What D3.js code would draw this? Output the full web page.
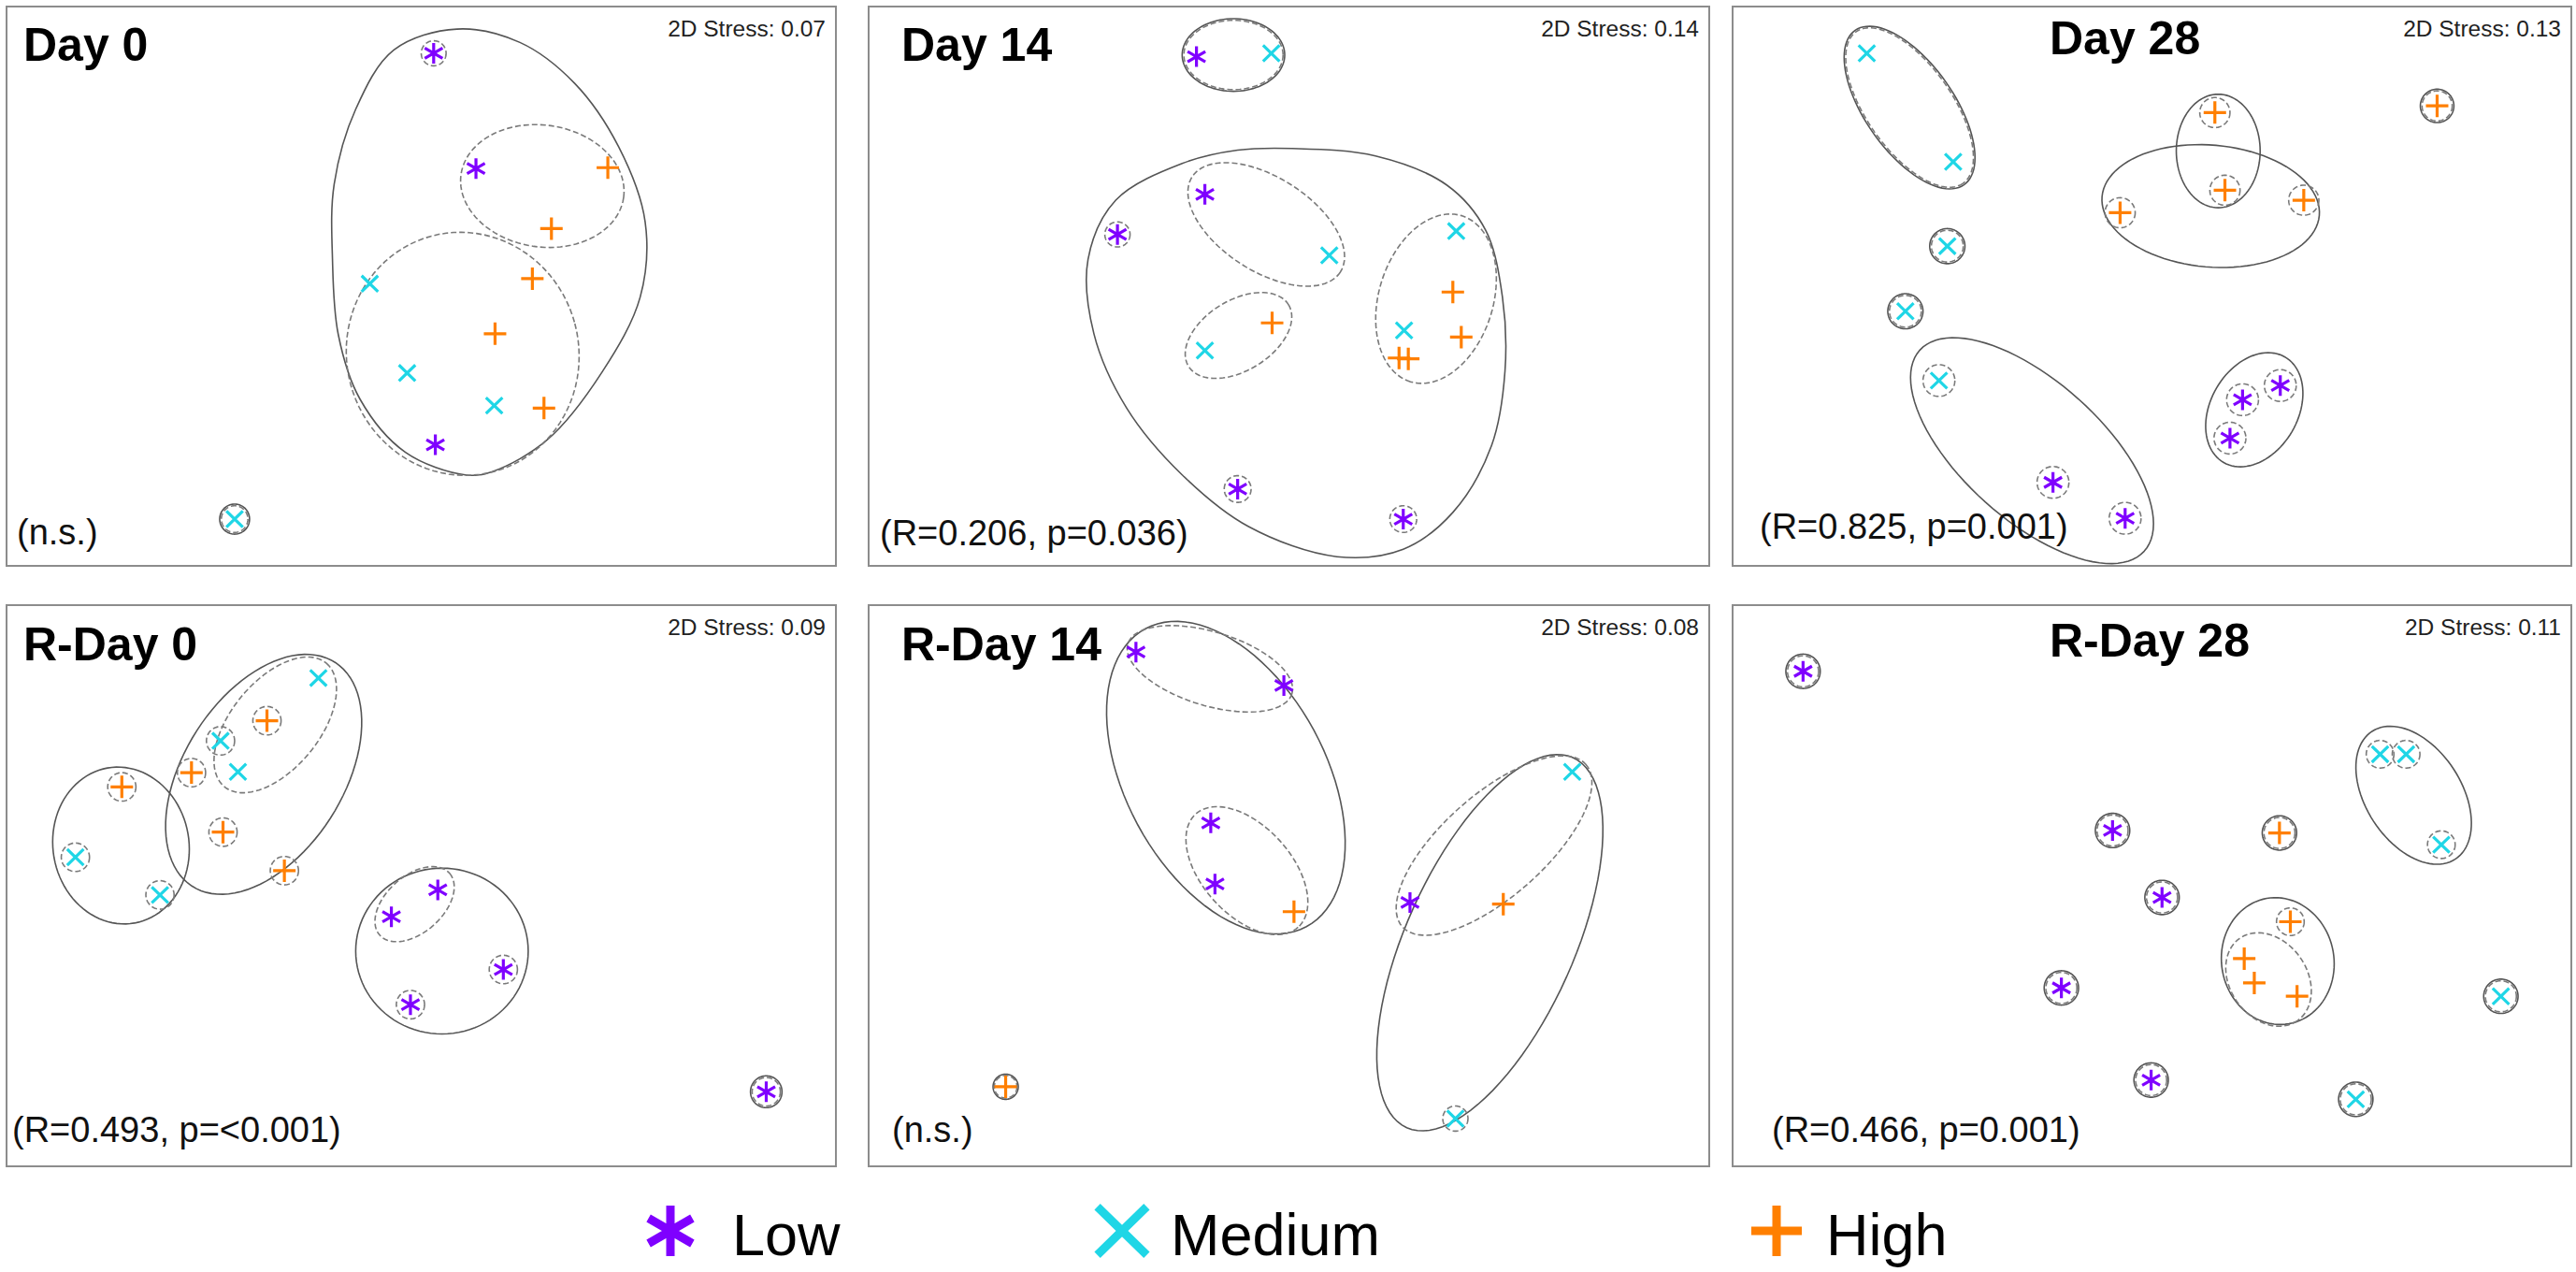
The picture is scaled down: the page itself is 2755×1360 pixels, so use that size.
<!DOCTYPE html>
<meta charset="utf-8">
<style>
  body { margin: 0; background: #fff; }
  * { font-family: 'Liberation Sans', Arial, sans-serif; }
</style>
<svg width="2755" height="1360"></svg>
<script src="https://d3js.org/d3.v7.min.js"></script>
<script>
// ---- data (NMDS coordinates, x 0-100, y 0-67, y down) ----
var groups = ["Low", "Medium", "High"];
var titles = ["Day 0", "Day 14", "Day 28", "R-Day 0", "R-Day 14", "R-Day 28"];
var stress = ["0.07", "0.14", "0.13", "0.09", "0.08", "0.11"];
var anosim = ["(n.s.)", "(R=0.206, p=0.036)", "(R=0.825, p=0.001)",
              "(R=0.493, p=<0.001)", "(n.s.)", "(R=0.466, p=0.001)"];

var ptsDay0 = [
  ["Low", 51.5, 5.6], ["Low", 56.6, 19.4], ["High", 72.5, 19.3], ["High", 65.7, 26.6],
  ["High", 63.4, 32.6], ["Medium", 43.8, 33.2], ["High", 58.9, 39.2], ["Medium", 48.3, 43.9],
  ["Medium", 58.8, 47.8], ["High", 64.8, 48.1], ["Low", 51.7, 52.5], ["Medium", 27.5, 61.4]
];
var ptsDay14 = [
  ["Low", 39.0, 6.0], ["Medium", 47.9, 5.6], ["Low", 40.0, 22.5], ["Low", 29.6, 27.3],
  ["Medium", 69.9, 26.9], ["Medium", 54.8, 29.8], ["High", 69.5, 34.2], ["High", 48.0, 37.9],
  ["Medium", 63.7, 38.8], ["High", 70.5, 39.6], ["Medium", 40.0, 41.2], ["High", 63.1, 42.1],
  ["High", 64.2, 42.2], ["Low", 43.9, 57.8], ["Low", 63.6, 61.4]
];
var ptsDay28 = [
  ["Medium", 16.0, 5.6], ["Medium", 26.3, 18.6], ["High", 57.5, 12.7], ["High", 84.0, 11.9],
  ["High", 58.7, 22.0], ["High", 68.1, 23.2], ["High", 46.2, 24.7], ["Medium", 25.6, 28.7],
  ["Medium", 20.6, 36.5], ["Medium", 24.6, 44.8], ["Low", 65.3, 45.4], ["Low", 60.8, 47.1],
  ["Low", 59.3, 51.7], ["Low", 38.2, 57.0], ["Low", 46.8, 61.3]
];
var ptsRDay0 = [
  ["Medium", 37.6, 8.7], ["High", 31.4, 13.8], ["Medium", 25.8, 16.2], ["Medium", 27.9, 19.9],
  ["High", 22.3, 20.0], ["High", 13.9, 21.7], ["High", 26.1, 27.1], ["Medium", 8.3, 30.1],
  ["High", 33.5, 31.7], ["Medium", 18.5, 34.6], ["Low", 52.0, 34.0], ["Low", 46.4, 37.2],
  ["Low", 59.9, 43.5], ["Low", 48.7, 47.7], ["Low", 91.6, 58.1]
];
var ptsRDay14 = [
  ["Low", 31.8, 5.6], ["Low", 49.4, 9.6], ["Low", 40.7, 26.0], ["Low", 41.2, 33.3],
  ["High", 50.6, 36.6], ["Medium", 83.7, 19.9], ["Low", 64.4, 35.5], ["High", 75.5, 35.7],
  ["Medium", 69.8, 61.3], ["High", 16.3, 57.5]
];
var ptsRDay28 = [
  ["Low", 8.4, 7.9], ["Medium", 77.2, 17.8], ["Medium", 80.3, 17.8], ["Medium", 84.5, 28.6],
  ["Low", 45.3, 26.9], ["High", 65.2, 27.2], ["Low", 51.2, 34.9], ["High", 66.5, 37.8],
  ["High", 61.0, 42.2], ["High", 62.2, 45.1], ["High", 67.3, 46.7], ["Low", 39.2, 45.7],
  ["Medium", 91.6, 46.7], ["Low", 49.9, 56.7], ["Medium", 74.3, 59.0]
];

// cluster contours: [cx, cy, rx, ry, rotation deg, level]  level 1 = solid, 2 = dashed
var ellDay0 = [
  [64.6, 21.5, 9.9, 7.3, 8, 2], [55.0, 41.6, 14.0, 14.6, -15, 2],
  [51.5, 5.6, 1.5, 1.5, 0, 2],
  [27.5, 61.4, 1.8, 1.8, 0, 1], [27.5, 61.4, 1.6, 1.6, 0, 2]
];
var ellDay14 = [
  [43.4, 5.8, 6.1, 4.35, 0, 1], [43.4, 5.8, 5.9, 4.15, 0, 2],
  [47.3, 26.1, 10.5, 5.6, 33, 2], [44.0, 39.4, 7.0, 4.2, -32, 2],
  [67.5, 35.0, 10.4, 6.8, 107, 2],
  [29.6, 27.3, 1.5, 1.5, 0, 2], [43.9, 57.8, 1.6, 1.6, 0, 2], [63.6, 61.4, 1.6, 1.6, 0, 2]
];
var ellDay28 = [
  [21.1, 12.1, 11.3, 5.3, 55, 1], [21.1, 12.1, 11.1, 5.1, 55, 2],
  [57.9, 17.3, 5.0, 6.8, 0, 1], [57.0, 23.9, 13.0, 7.3, 5, 1],
  [57.5, 12.7, 1.8, 1.8, 0, 2], [58.7, 22.0, 1.8, 1.8, 0, 2],
  [68.1, 23.2, 1.8, 1.8, 0, 2], [46.2, 24.7, 1.8, 1.8, 0, 2],
  [84.0, 11.9, 2.0, 2.0, 0, 1], [84.0, 11.9, 1.8, 1.8, 0, 2],
  [25.6, 28.7, 2.1, 2.1, 0, 1], [25.6, 28.7, 1.9, 1.9, 0, 2],
  [20.6, 36.5, 2.1, 2.1, 0, 1], [20.6, 36.5, 1.9, 1.9, 0, 2],
  [35.7, 53.2, 18.0, 8.3, 42, 1],
  [24.6, 44.8, 1.9, 1.9, 0, 2], [38.2, 57.0, 1.9, 1.9, 0, 2], [46.8, 61.3, 1.9, 1.9, 0, 2],
  [62.2, 48.3, 7.3, 5.2, 120, 1],
  [65.3, 45.4, 1.9, 1.9, 0, 2], [60.8, 47.1, 1.9, 1.9, 0, 2], [59.3, 51.7, 1.9, 1.9, 0, 2]
];
var ellRDay0 = [
  [31.0, 20.2, 15.9, 9.6, -57, 1], [32.4, 14.3, 9.6, 5.3, -50, 2],
  [13.8, 28.7, 9.4, 8.2, 80, 1],
  [52.5, 41.3, 10.4, 9.9, 0, 1], [49.2, 35.7, 5.6, 3.4, -41, 2],
  [31.4, 13.8, 1.7, 1.7, 0, 2], [25.8, 16.2, 1.7, 1.7, 0, 2], [22.3, 20.0, 1.7, 1.7, 0, 2],
  [13.9, 21.7, 1.7, 1.7, 0, 2], [26.1, 27.1, 1.7, 1.7, 0, 2], [8.3, 30.1, 1.7, 1.7, 0, 2],
  [33.5, 31.7, 1.7, 1.7, 0, 2], [18.5, 34.6, 1.7, 1.7, 0, 2], [59.9, 43.5, 1.7, 1.7, 0, 2],
  [48.7, 47.7, 1.7, 1.7, 0, 2],
  [91.6, 58.1, 1.9, 1.9, 0, 1], [91.6, 58.1, 1.7, 1.7, 0, 2]
];
var ellRDay14 = [
  [42.5, 20.6, 20.2, 11.9, 61.7, 1], [40.6, 7.6, 10.2, 4.4, 17, 2],
  [45.0, 31.7, 9.1, 5.3, 48, 2],
  [73.9, 40.3, 24.2, 10.0, -65.9, 1], [74.4, 28.7, 14.6, 6.1, -41.6, 2],
  [69.8, 61.3, 1.5, 1.5, 0, 2],
  [16.3, 57.5, 1.5, 1.5, 0, 1], [16.3, 57.5, 1.35, 1.35, 0, 2]
];
var ellRDay28 = [
  [81.2, 22.7, 9.1, 5.7, 57, 1],
  [65.0, 42.5, 7.6, 6.7, 80, 1], [63.9, 44.7, 6.0, 4.6, 55, 2],
  [77.2, 17.8, 1.65, 1.65, 0, 2], [80.3, 17.8, 1.65, 1.65, 0, 2],
  [84.5, 28.6, 1.65, 1.65, 0, 2], [66.5, 37.8, 1.65, 1.65, 0, 2],
  [8.4, 7.9, 2.05, 2.05, 0, 1], [8.4, 7.9, 1.85, 1.85, 0, 2],
  [45.3, 26.9, 2.05, 2.05, 0, 1], [45.3, 26.9, 1.85, 1.85, 0, 2],
  [65.2, 27.2, 2.05, 2.05, 0, 1], [65.2, 27.2, 1.85, 1.85, 0, 2],
  [51.2, 34.9, 2.05, 2.05, 0, 1], [51.2, 34.9, 1.85, 1.85, 0, 2],
  [39.2, 45.7, 2.05, 2.05, 0, 1], [39.2, 45.7, 1.85, 1.85, 0, 2],
  [91.6, 46.7, 2.05, 2.05, 0, 1], [91.6, 46.7, 1.85, 1.85, 0, 2],
  [49.9, 56.7, 2.05, 2.05, 0, 1], [49.9, 56.7, 1.85, 1.85, 0, 2],
  [74.3, 59.0, 2.05, 2.05, 0, 1], [74.3, 59.0, 1.85, 1.85, 0, 2]
];

// free-form solid contours (not elliptical)
var hullDay0 = [
  [54.3, 2.7], [61.9, 4.3], [68.5, 9.2], [73.8, 16.8], [77.0, 25.8], [76.4, 34.8],
  [71.8, 43.8], [65.2, 51.9], [58.6, 55.7], [55.3, 56.1], [48.1, 53.4], [42.6, 47.0],
  [40.0, 39.3], [39.3, 30.3], [39.5, 21.3], [42.1, 12.3], [46.7, 5.2]
];
var hullDay14 = [
  [50.4, 17.0], [60.3, 17.9], [68.8, 21.4], [73.4, 26.8], [75.4, 34.8], [75.7, 43.7],
  [74.1, 52.6], [69.5, 60.6], [63.6, 65.0], [55.7, 65.9], [45.2, 62.3], [37.3, 56.1],
  [30.7, 48.1], [26.8, 39.2], [26.1, 30.3], [29.4, 23.2], [37.3, 18.8], [43.9, 17.2]
];

var allPts = [ptsDay0, ptsDay14, ptsDay28, ptsRDay0, ptsRDay14, ptsRDay28];
var allEll = [ellDay0, ellDay14, ellDay28, ellRDay0, ellRDay14, ellRDay28];
var allHull = [hullDay0, hullDay14, null, null, null, null];

// ---- layout ----
var svg = d3.select("svg");
var colX = [7, 929, 1853], colW = [887, 899, 897];
var rowY = [7, 647], rowH = [598, 600];
var titleDx = [18, 35, 339, 18, 35, 339], titleDy = [58, 58, 51, 59, 59, 55];
var statDx = [11, 12, 29, 6, 25, 42], statDy = [575, 576, 569, 574, 574, 574];

var color = d3.scaleOrdinal().domain(groups).range(["#7f00ff", "#1fd6e6", "#ff7f00"]);

function markerPath(type, r) {
  var p = d3.path();
  if (type === "Low") {
    for (var k = 0; k < 3; k++) {
      var a = Math.PI / 2 + k * Math.PI / 3;
      p.moveTo(-r * Math.cos(a), -r * Math.sin(a));
      p.lineTo(r * Math.cos(a), r * Math.sin(a));
    }
  } else if (type === "Medium") {
    var w = r * 0.8, h = r * 0.78;
    p.moveTo(-w, -h); p.lineTo(w, h);
    p.moveTo(w, -h); p.lineTo(-w, h);
  } else {
    p.moveTo(-r, 0); p.lineTo(r, 0);
    p.moveTo(0, -r); p.lineTo(0, r);
  }
  return p.toString();
}
var markerSize = {Low: 11, Medium: 11, High: 12};

allPts.forEach(function(pts, i) {
  var col = i % 3, row = Math.floor(i / 3);
  var x0 = colX[col], y0 = rowY[row], w = colW[col], h = rowH[row];
  var x = d3.scaleLinear().domain([0, 100]).range([x0, x0 + w]);
  var y = d3.scaleLinear().domain([0, 67]).range([y0, y0 + h]);
  var g = svg.append("g");

  g.append("rect")
      .attr("x", x0).attr("y", y0).attr("width", w).attr("height", h)
      .attr("fill", "#fff").attr("stroke", "#8c8c8c").attr("stroke-width", 2);

  var line = d3.line().x(function(d) { return x(d[0]); }).y(function(d) { return y(d[1]); });

  if (allHull[i]) {
    g.append("path")
        .attr("d", line.curve(d3.curveCatmullRomClosed.alpha(0.5))(allHull[i]))
        .attr("fill", "none").attr("stroke", "#555").attr("stroke-width", 1.6);
  }

  allEll[i].forEach(function(e) {
    var th = e[4] * Math.PI / 180, ring = [];
    for (var t = 0; t < 96; t++) {
      var a = t / 96 * 2 * Math.PI;
      var ex = e[2] * Math.cos(a), ey = e[3] * Math.sin(a);
      ring.push([e[0] + ex * Math.cos(th) - ey * Math.sin(th),
                 e[1] + ex * Math.sin(th) + ey * Math.cos(th)]);
    }
    g.append("path")
        .attr("d", line.curve(d3.curveLinearClosed)(ring))
        .attr("fill", "none")
        .attr("stroke", e[5] === 1 ? "#555" : "#7a7a7a")
        .attr("stroke-width", 1.6)
        .attr("stroke-dasharray", e[5] === 1 ? null : "6,3");
  });

  g.selectAll(".pt").data(pts).enter().append("path")
      .attr("transform", function(d) { return "translate(" + x(d[1]) + "," + y(d[2]) + ")"; })
      .attr("d", function(d) { return markerPath(d[0], markerSize[d[0]]); })
      .attr("fill", "none")
      .attr("stroke", function(d) { return color(d[0]); })
      .attr("stroke-width", 3.2);

  g.append("text")
      .attr("x", x0 + titleDx[i]).attr("y", y0 + titleDy[i])
      .style("font-size", "50px").style("font-weight", "bold")
      .text(titles[i]);

  g.append("text")
      .attr("x", x0 + w - 11).attr("y", y0 + 32)
      .attr("text-anchor", "end")
      .style("font-size", "24.5px").attr("fill", "#222")
      .text("2D Stress: " + stress[i]);

  g.append("text")
      .attr("x", x0 + statDx[i]).attr("y", y0 + statDy[i])
      .style("font-size", "38px").attr("fill", "#111")
      .text(anosim[i]);
});

// ---- legend ----
var legX = [717, 1200, 1900], legTextX = [783, 1252, 1953];
var leg = svg.append("g");
groups.forEach(function(gname, i) {
  leg.append("path")
      .attr("transform", "translate(" + legX[i] + ",1316)")
      .attr("d", markerPath(gname, gname === "Medium" ? 33 : 27))
      .attr("fill", "none").attr("stroke", color(gname)).attr("stroke-width", 9);
  leg.append("text")
      .attr("x", legTextX[i]).attr("y", 1342)
      .style("font-size", "63px")
      .text(gname);
});
</script>
